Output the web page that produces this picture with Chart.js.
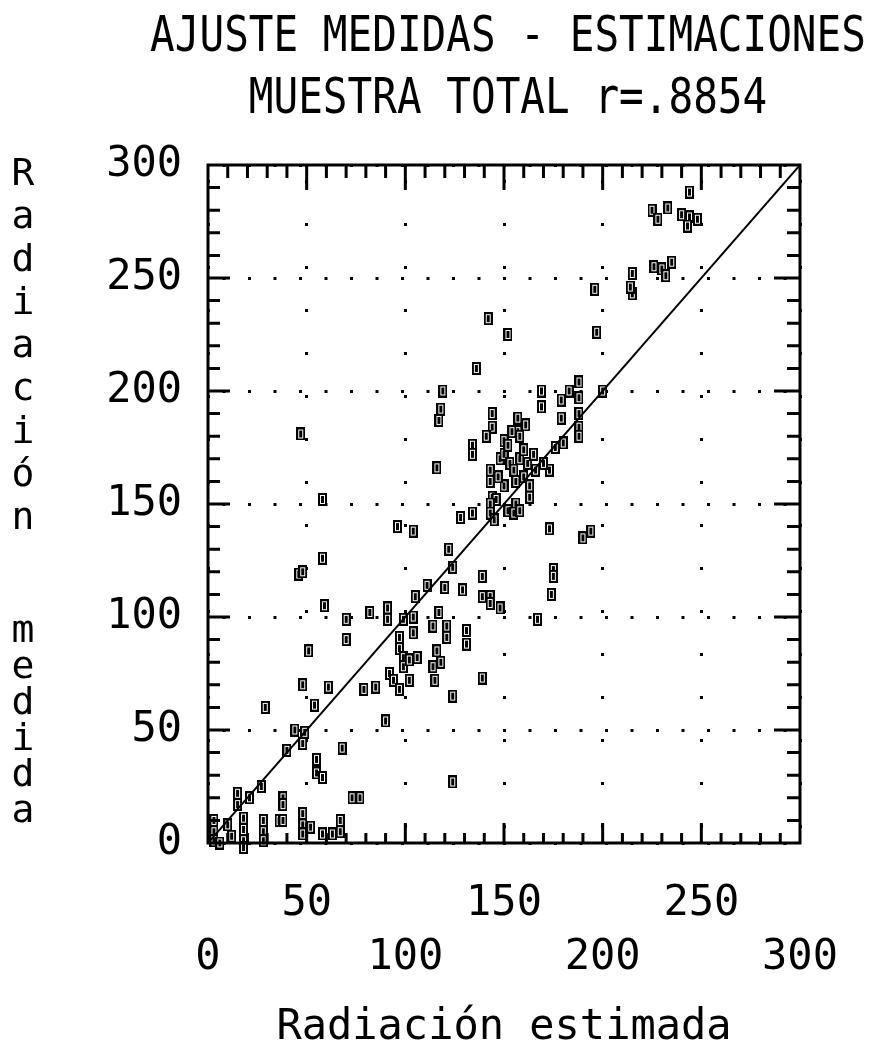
<!DOCTYPE html>
<html lang="es">
<head>
<meta charset="UTF-8">
<title>Ajuste medidas - estimaciones</title>
<script src="https://cdn.jsdelivr.net/npm/chart.js"></script>
<style>
  html, body { margin: 0; padding: 0; background: #fff; }
  #caja { width: 881px; height: 1058px; }
</style>
</head>
<body>
<div id="caja"><canvas id="grafica" width="881" height="1058"></canvas></div>
<script>
// Textos
const titulo = ['AJUSTE MEDIDAS - ESTIMACIONES', 'MUESTRA TOTAL r=.8854'];
const tituloX = 'Radiación estimada';
const tituloY = 'Radiación medida';

// Marcas de los ejes
const ticksX = [0, 50, 100, 150, 200, 250, 300];
const ticksY = [0, 50, 100, 150, 200, 250, 300];

// Radiacion estimada (x) y medida (y)
const estimada = [
  244,225,233,228,240,244,248,243,226,230,235,232,215,215,214,196,197,152,142,136,
  119,118,117,169,169,179,179,183,188,188,188,200,144,144,141,157,157,150,47,134,134,116,
  143,143,144,146,148,150,152,153,155,156,158,160,160,162,163,163,165,166,150,147,154,158,161,156,152,
  176,180,188,188,173,170,58,
  143,143,155,145,158,173,190,194,175,175,174,128,134,96,104,58,122,124,46,48,139,
  111,120,129,139,143,105,59,91,91,82,99,104,104,117,114,121,121,131,131,70,70,97,97,143,148,167,
  51,99,99,102,106,116,118,114,139,92,94,102,97,115,48,61,79,85,124,29,54,90,
  44,49,48,68,40,55,55,58,124,27,73,77,38,38,15,15,21,
  3,3,3,6,18,18,18,18,28,28,28,36,38,48,48,48,52,58,67,67,63,10,12
];
const medida = [
  288,280,281,276,278,277,276,273,255,254,257,251,252,243,246,245,226,225,232,210,
  200,192,187,200,193,196,188,200,204,197,190,200,190,184,180,188,182,178,181,176,172,166,
  165,160,153,152,170,172,176,168,165,160,170,174,162,168,158,153,172,165,158,162,182,180,185,150,147,
  175,177,184,180,165,168,152,
  150,146,146,143,147,139,135,138,121,118,110,144,146,140,138,126,130,122,119,120,118,
  114,113,112,109,109,109,105,104,99,102,99,100,93,102,96,96,91,94,88,99,90,91,86,106,104,99,
  85,82,78,81,82,85,80,78,73,75,72,72,68,72,70,69,68,69,65,60,61,54,
  50,49,44,42,41,37,31,29,27,25,20,20,20,17,22,17,20,
  10,5,1,0,11,6,1,-2,10,5,1,10,10,13,8,4,7,4,10,5,4,8,3
];

// Recta y = x
const rectaX = [0, 300];
const rectaY = [0, 300];

const puntos = estimada.map((x, i) => ({ x: x, y: medida[i] }));
const recta = rectaX.map((x, i) => ({ x: x, y: rectaY[i] }));

// simbolo rectangular de los puntos (casi negro, con un hilo blanco dentro)
const marca = document.createElement('canvas');
marca.width = 9;
marca.height = 13;
const mc = marca.getContext('2d');
mc.fillStyle = '#000';
mc.fillRect(0, 0, 9, 13);
mc.fillStyle = '#fff';
mc.fillRect(2, 2, 5, 9);
mc.fillStyle = '#000';
mc.fillRect(3, 3, 3, 7);

const fuente = "'DejaVu Sans Mono', 'Liberation Mono', monospace";
Chart.defaults.font.family = fuente;
Chart.defaults.color = '#000';

// marco, rayitas interiores y textos
const marco = {
  id: 'marco',
  afterDatasetsDraw(chart) {
    const { ctx, chartArea: a, scales: { x, y } } = chart;
    ctx.save();
    ctx.strokeStyle = '#000';
    ctx.lineWidth = 3;
    ctx.strokeRect(a.left, a.top, a.right - a.left, a.bottom - a.top);
    ctx.beginPath();
    for (let v = 10; v < 300; v += 10) {
      const mayor = v % 50 === 0;
      const px = x.getPixelForValue(v);
      const py = y.getPixelForValue(v);
      ctx.moveTo(px, a.bottom); ctx.lineTo(px, a.bottom - (mayor ? 20 : 10));
      ctx.moveTo(px, a.top); ctx.lineTo(px, a.top + (mayor ? 25 : 13));
      ctx.moveTo(a.left, py); ctx.lineTo(a.left + (mayor ? 22 : 12), py);
      ctx.moveTo(a.right, py); ctx.lineTo(a.right - (mayor ? 26 : 13), py);
    }
    ctx.stroke();
    ctx.restore();
  },
  afterDraw(chart) {
    const { ctx, chartArea: a } = chart;
    ctx.save();
    ctx.fillStyle = '#000';
    ctx.textAlign = 'center';
    ctx.textBaseline = 'middle';
    ctx.font = '41px ' + fuente;
    const cx = (a.left + a.right) / 2 + 4;
    [38, 100].forEach((ty, i) => {
      ctx.save();
      ctx.translate(cx, ty);
      ctx.scale(1, 1.2);
      ctx.fillText(titulo[i], 0, 0);
      ctx.restore();
    });
    // titulo vertical: letras derechas una debajo de otra
    ctx.font = '38px ' + fuente;
    const [p1, p2] = tituloY.split(' ');
    Array.from(p1).forEach((c, i) => ctx.fillText(c, 23, 175 + i * 43));
    Array.from(p2).forEach((c, i) => ctx.fillText(c, 23, 632 + i * 36));
    ctx.restore();
  }
};

new Chart(document.getElementById('grafica'), {
  type: 'scatter',
  data: {
    datasets: [
      {
        type: 'line',
        data: recta,
        borderColor: '#000',
        borderWidth: 2,
        pointRadius: 0,
        fill: false
      },
      {
        data: puntos,
        pointStyle: marca,
        pointRadius: 6,
        clip: false
      }
    ]
  },
  options: {
    responsive: false,
    animation: false,
    layout: { padding: { left: 0, right: 81, top: 165, bottom: 0 } },
    plugins: {
      legend: { display: false },
      tooltip: { enabled: false }
    },
    scales: {
      x: {
        type: 'linear',
        min: 0,
        max: 300,
        afterBuildTicks: s => { s.ticks = ticksX.map(v => ({ value: v })); },
        afterFit: s => { s.height = 215; },
        grid: { color: '#000', lineWidth: 3, drawTicks: false },
        border: { display: false, dash: [3, 40], dashOffset: 28 },
        ticks: {
          autoSkip: false,
          maxRotation: 0,
          padding: 34,
          font: { size: 42, lineHeight: 1.29 },
          callback: v => v % 100 === 0 ? ['', String(v)] : [String(v), '']
        },
        title: {
          display: true,
          text: tituloX,
          font: { size: 42, lineHeight: 1.2 },
          padding: { top: 0, bottom: 5 }
        }
      },
      y: {
        type: 'linear',
        min: 0,
        max: 300,
        afterBuildTicks: s => { s.ticks = ticksY.map(v => ({ value: v })); },
        afterFit: s => { s.width = 208; },
        grid: { color: '#000', lineWidth: 3, drawTicks: false },
        border: { display: false, dash: [3, 22.5], dashOffset: 11 },
        ticks: {
          autoSkip: false,
          padding: 26,
          font: { size: 42 }
        }
      }
    }
  },
  plugins: [marco]
});
</script>
</body>
</html>
